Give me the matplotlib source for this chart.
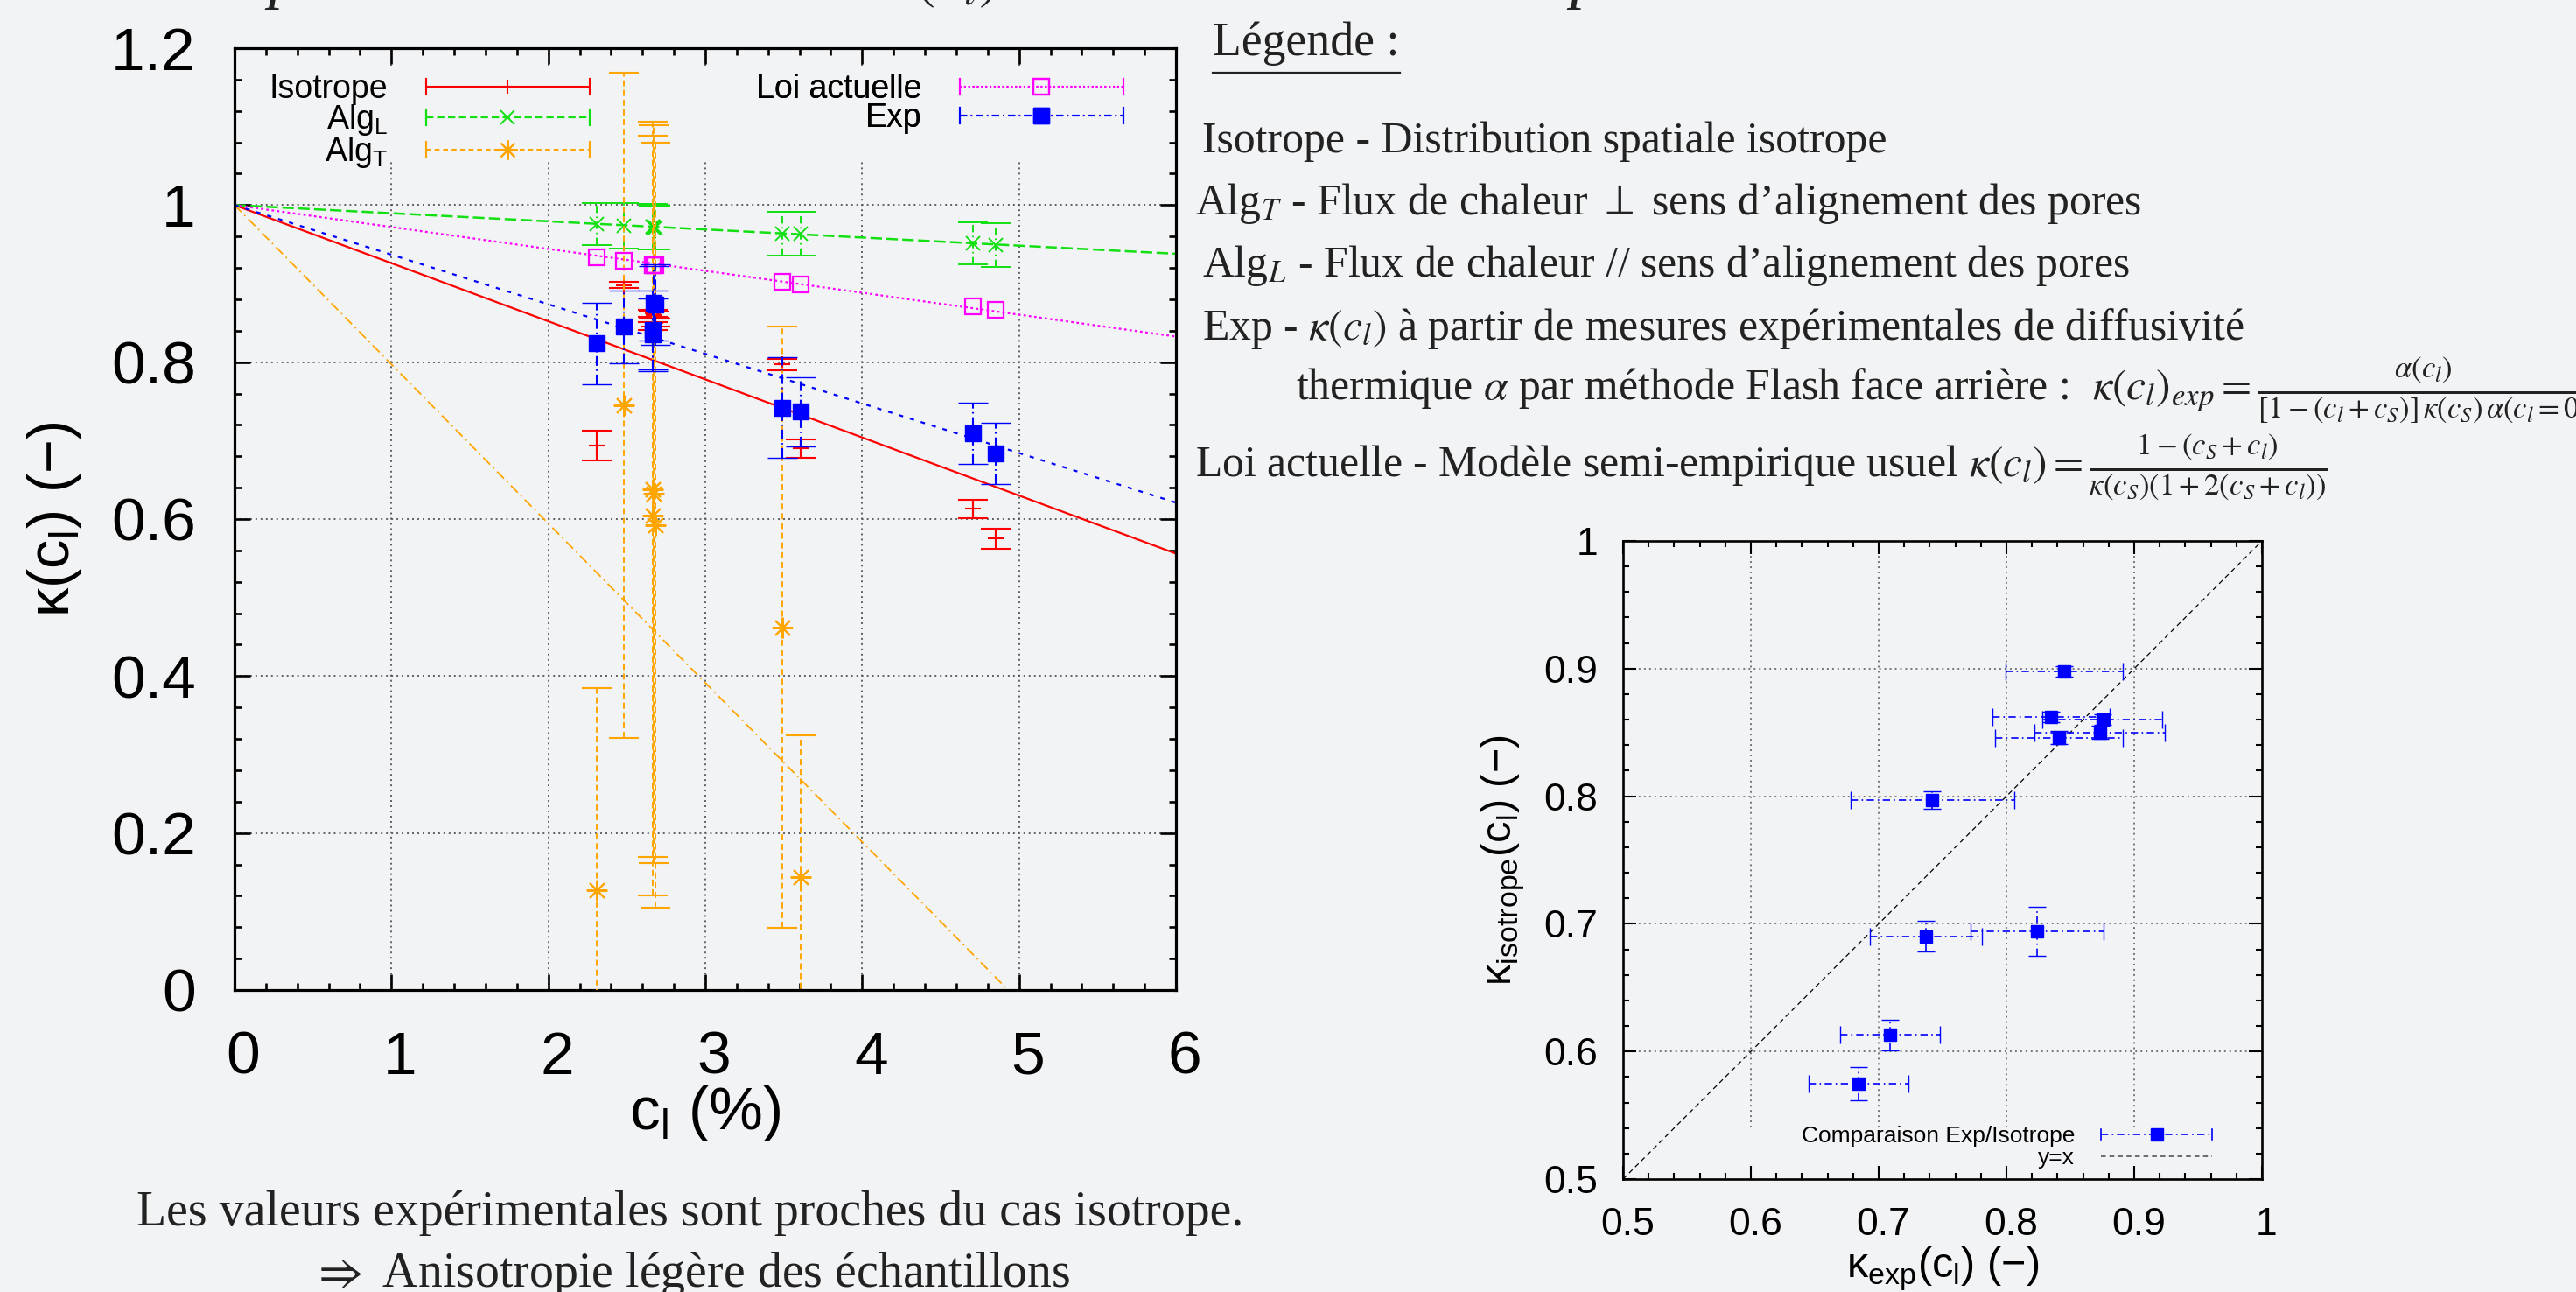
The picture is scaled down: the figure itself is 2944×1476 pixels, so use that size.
import numpy as np
import matplotlib
matplotlib.use('Agg')
import matplotlib.pyplot as plt
from matplotlib.lines import Line2D
from matplotlib.legend_handler import HandlerBase
from matplotlib.ticker import MultipleLocator, FuncFormatter
import matplotlib.transforms as mtransforms

# ---------------- data ----------------
cl = [2.31, 2.48, 2.665, 2.67, 2.665, 2.68, 3.49, 3.61, 4.705, 4.854]
k_exp = [0.824, 0.845, 0.835, 0.875, 0.841, 0.873, 0.742, 0.737, 0.709, 0.684]
k_exp_err = [0.052, 0.046, 0.046, 0.047, 0.050, 0.051, 0.064, 0.044, 0.039, 0.039]
k_iso = [0.694, 0.898, 0.862, 0.860, 0.846, 0.850, 0.797, 0.690, 0.613, 0.575]
k_iso_err = [0.019, 0.004, 0.004, 0.004, 0.005, 0.005, 0.007, 0.012, 0.012, 0.013]
k_algL = [0.976, 0.974, 0.972, 0.971, 0.972, 0.971, 0.964, 0.964, 0.951, 0.949]
k_algL_err = [0.027, 0.029, 0.029, 0.028, 0.029, 0.028, 0.028, 0.028, 0.027, 0.028]
k_algT = [0.127, 0.745, 0.638, 0.632, 0.604, 0.592, 0.462, 0.144, np.nan, np.nan]
k_algT_err = [0.258, 0.424, 0.468, 0.470, 0.484, 0.487, 0.383, 0.180, np.nan, np.nan]
k_loi = [0.934, 0.929, 0.923, 0.923, 0.923, 0.923, 0.902, 0.899, 0.871, 0.866]

line_cl = [0.0, 6.0]
iso_line = [1.0, 0.556]
algL_line = [1.0, 0.938]
algT_line = [1.0, -0.217]
loi_line = [1.0, 0.8325]
exp_line = [1.0, 0.621]

diag = [0.5, 1.0]

x_ticks_left = [0, 1, 2, 3, 4, 5, 6]
y_ticks_left = [0, 0.2, 0.4, 0.6, 0.8, 1.0, 1.2]
ticks_right = [0.5, 0.6, 0.7, 0.8, 0.9, 1.0]

# ---------------- style ----------------
BG = '#f2f3f5'
RED = '#ff0000'
GREEN = '#12e012'
ORANGE = '#ffa500'
MAGENTA = '#ff00ff'
BLUE = '#0000ff'
GRIDC = '#555555'
SERIF = ['Liberation Serif', 'DejaVu Serif']

plt.rcParams['font.family'] = ['Liberation Sans', 'DejaVu Sans']
plt.rcParams['mathtext.default'] = 'it'
plt.rcParams['lines.scale_dashes'] = False

W, H, DPI = 2944, 1476, 100
fig = plt.figure(figsize=(W / DPI, H / DPI), dpi=DPI, facecolor=BG)


def px_axes(l, t, r, b):
    return fig.add_axes([l / W, 1 - b / H, (r - l) / W, (b - t) / H])


GRID_LS = (0, (1.4, 2.9))
fmt = FuncFormatter(lambda v, p: '{:g}'.format(round(v, 6)))


class GnuErrHandler(HandlerBase):
    def __init__(self, color, ls, lw, marker=None, ms=10, mfc=None, mew=1.5, cap=0):
        super().__init__()
        self.p = dict(color=color, ls=ls, lw=lw, marker=marker, ms=ms, mfc=mfc, mew=mew, cap=cap)

    def create_artists(self, legend, orig_handle, xdescent, ydescent, width, height, fontsize, trans):
        p = self.p
        y = height / 2 - ydescent
        x0, x1 = -xdescent, -xdescent + width
        arts = [Line2D([x0, x1], [y, y], color=p['color'], lw=p['lw'], ls=p['ls'])]
        if p['cap']:
            for xx in (x0, x1):
                arts.append(Line2D([xx, xx], [y - p['cap'] / 2, y + p['cap'] / 2], color=p['color'], lw=p['lw']))
        if p['marker'] is not None:
            arts.append(Line2D([(x0 + x1) / 2], [y], ls='none', marker=p['marker'], ms=p['ms'],
                               mfc=p['mfc'], mec=p['color'], mew=p['mew']))
        for a in arts:
            a.set_transform(trans)
        return arts


def draw_err(ax, x, y, yerr, color, marker, ms, mfc, mew, bar_ls, capsize, lw=1.5, xerr=None, z=3):
    x = np.asarray(x, float)
    y = np.asarray(y, float)
    m = np.isfinite(y)
    ye = None if yerr is None else np.asarray(yerr, float)[m]
    xe = None if xerr is None else np.asarray(xerr, float)[m]
    c = ax.errorbar(x[m], y[m], yerr=ye, xerr=xe, ls='none', marker=marker, ms=ms, mfc=mfc,
                    mec=color, mew=mew, ecolor=color, elinewidth=lw, capsize=capsize,
                    capthick=lw, zorder=z)
    for lc in c[2]:
        lc.set_linestyle(bar_ls)
    return c


# ================= left plot =================
ax = px_axes(268, 55, 1344, 1131)
ax.set_facecolor(BG)
ax.set_xlim(0, 6)
ax.set_ylim(0, 1.2)
ax.xaxis.set_major_locator(MultipleLocator(1))
ax.xaxis.set_minor_locator(MultipleLocator(0.2))
ax.yaxis.set_major_locator(MultipleLocator(0.2))
ax.yaxis.set_minor_locator(MultipleLocator(0.04))
ax.xaxis.set_major_formatter(fmt)
ax.yaxis.set_major_formatter(fmt)
ax.tick_params(which='both', direction='in', top=True, right=True, width=1.9, color='black')
ax.tick_params(which='major', length=13, labelsize=50, pad=32)
ax.tick_params(axis='x', which='major', pad=33)
ax.tick_params(which='minor', length=6)
for s in ax.spines.values():
    s.set_linewidth(2.3)

# grid (gnuplot leaves the key area free)
for t in y_ticks_left[1:-1]:
    ax.axhline(t, color=GRIDC, lw=1.3, ls=GRID_LS, zorder=1)
for t in x_ticks_left[1:-1]:
    ax.axvline(t, ymin=0, ymax=0.879, color=GRIDC, lw=1.3, ls=GRID_LS, zorder=1)
    ax.axvline(t, ymin=0.981, ymax=1, color=GRIDC, lw=1.3, ls=GRID_LS, zorder=1)

# model lines
ax.plot(line_cl, iso_line, color=RED, lw=1.6, ls='-', zorder=2)
ax.plot(line_cl, algL_line, color=GREEN, lw=1.8, ls=(0, (9.5, 3.6)), zorder=2)
ax.plot(line_cl, algT_line, color=ORANGE, lw=1.3, ls=(0, (8, 3.5, 1.2, 3.5)), zorder=2)
ax.plot(line_cl, loi_line, color=MAGENTA, lw=1.6, ls=(0, (2, 2.4)), zorder=2)
ax.plot(line_cl, exp_line, color=BLUE, lw=1.6, ls=(0, (3.6, 5.8)), zorder=2)

# data
draw_err(ax, cl, k_iso, k_iso_err, RED, '+', 12.5, RED, 1.5, '-', 12.5, lw=1.5, z=3)
draw_err(ax, cl, k_algL, k_algL_err, GREEN, 'x', 12, GREEN, 1.4, (0, (6, 3, 1.2, 3)), 12, lw=1.4, z=3.1)
draw_err(ax, cl, k_algT, k_algT_err, ORANGE, (8, 2, 0), 17, ORANGE, 1.5, (0, (5, 3)), 12, lw=1.4, z=3.2)
ax.plot(cl, k_loi, ls='none', marker='s', ms=13, mfc='none', mec=MAGENTA, mew=1.6, zorder=3.3)
draw_err(ax, cl, k_exp, k_exp_err, BLUE, 's', 13, BLUE, 1.0, (0, (8, 3, 1.2, 3)), 12.5, lw=1.5, z=3.4)

ax.set_xlabel('c$_{\\mathregular{l}}$ (%)', fontsize=50, va='center')
ax.xaxis.set_label_coords(0.5, (1131 - 1272) / 1076)
ax.set_ylabel('κ(c$_{\\mathregular{l}}$) (−)', fontsize=48, va='center', ha='center')
ax.yaxis.set_label_coords((62 - 268) / 1076, 0.5)

off = mtransforms.ScaledTranslation(10 / DPI, 0, fig.dpi_scale_trans)
for lab in ax.get_xticklabels():
    lab.set_transform(lab.get_transform() + off)

# legends
h1, h2, h3, h4, h5 = [Line2D([], []) for _ in range(5)]
leg_kw = dict(markerfirst=False, frameon=False, fontsize=27, handlelength=5.0, handletextpad=1.15,
              labelspacing=-0.08, borderpad=0, borderaxespad=0, handleheight=0.7,
              bbox_transform=fig.transFigure, loc='upper right')
leg1 = ax.legend([h1, h2, h3], ['Isotrope', 'Alg$_{\\mathregular{L}}$', 'Alg$_{\\mathregular{T}}$'],
                 handler_map={h1: GnuErrHandler(RED, '-', 1.5, '+', 12, RED, 1.5, cap=13),
                              h2: GnuErrHandler(GREEN, (0, (6, 3)), 1.6, 'x', 12, GREEN, 1.4, cap=13),
                              h3: GnuErrHandler(ORANGE, (0, (4, 3)), 1.5, (8, 2, 0), 16, ORANGE, 1.5, cap=13)},
                 bbox_to_anchor=(674 / W, 1 - 84 / H), **leg_kw)
ax.add_artist(leg1)
leg2 = ax.legend([h4, h5], ['Loi actuelle', 'Exp'],
                 handler_map={h4: GnuErrHandler(MAGENTA, (0, (1.5, 2)), 1.5, 's', 13, 'none', 1.6, cap=13),
                              h5: GnuErrHandler(BLUE, (0, (6, 3, 1.2, 3)), 1.5, 's', 13, BLUE, 1.0, cap=13)},
                 bbox_to_anchor=(1284 / W, 1 - 84 / H), **leg_kw)
ax.add_artist(leg2)

# ================= right plot =================
bx = px_axes(1855, 618, 2585, 1347)
bx.set_facecolor(BG)
bx.set_xlim(0.5, 1.0)
bx.set_ylim(0.5, 1.0)
for a in (bx.xaxis, bx.yaxis):
    a.set_major_locator(MultipleLocator(0.1))
    a.set_minor_locator(MultipleLocator(0.02))
    a.set_major_formatter(fmt)
bx.tick_params(which='both', direction='in', top=True, right=True, width=1.5, color='black')
bx.tick_params(which='major', length=11, labelsize=32, pad=21)
bx.tick_params(axis='x', which='major', pad=23)
bx.tick_params(which='minor', length=5)
for s in bx.spines.values():
    s.set_linewidth(1.9)
for t in ticks_right[1:-1]:
    bx.axhline(t, color=GRIDC, lw=1.1, ls=GRID_LS, zorder=1)
    bx.axvline(t, ymin=0.081, ymax=1, color=GRIDC, lw=1.1, ls=GRID_LS, zorder=1)

bx.plot(diag, diag, color='black', lw=0.9, ls=(0, (4, 3)), zorder=2)
draw_err(bx, k_exp, k_iso, k_iso_err, BLUE, 's', 9.5, BLUE, 1.0, (0, (6, 3, 1.2, 3)), 7,
         lw=1.2, xerr=k_exp_err, z=3)

off2 = mtransforms.ScaledTranslation(5 / DPI, 0, fig.dpi_scale_trans)
for lab in bx.get_xticklabels():
    lab.set_transform(lab.get_transform() + off2)

bx.set_xlabel('κ$_{\\mathregular{exp}}$(c$_{\\mathregular{l}}$) (−)', fontsize=35, va='center')
bx.xaxis.set_label_coords(0.5, (1347 - 1450) / 729)
bx.set_ylabel('κ$_{\\mathregular{isotrope}}$(c$_{\\mathregular{l}}$) (−)', fontsize=35, va='center', ha='center')
bx.yaxis.set_label_coords((1718 - 1855) / 730, 0.5)

h6, h7 = Line2D([], []), Line2D([], [])
leg3 = bx.legend([h6, h7], ['Comparaison Exp/Isotrope', 'y=x'],
                 handler_map={h6: GnuErrHandler(BLUE, (0, (6, 3, 1.2, 3)), 1.2, 's', 9.5, BLUE, 1.0, cap=9),
                              h7: GnuErrHandler('#555555', (0, (4, 3)), 1.2)},
                 markerfirst=False, frameon=False, fontsize=19, handlelength=4.8, handletextpad=1.15,
                 labelspacing=0.05, borderpad=0, borderaxespad=0, handleheight=0.7,
                 bbox_transform=fig.transFigure, loc='upper right',
                 bbox_to_anchor=(2528 / W, 1 - 1286 / H))

# ================= text =================
renderer = fig.canvas.get_renderer()
serif_kw = dict(family=SERIF, math_fontfamily='stix', color='#222222')


def text_width(s, size, **kw):
    t = fig.text(0, 0, s, fontsize=size, **kw)
    w = t.get_window_extent(renderer).width
    t.remove()
    return w


def fit_size(s, target_px, base=30.0, **kw):
    return base * target_px / text_width(s, base, **kw)


def ftext(x, baseline, s, size, ha='left', **kw):
    return fig.text(x / W, 1 - baseline / H, s, fontsize=size, ha=ha, va='baseline', **serif_kw, **kw)


L1 = 'Isotrope - Distribution spatiale isotrope'
L2 = 'Alg$_{T}$ - Flux de chaleur $\\perp$ sens d’alignement des pores'
L3 = 'Alg$_{L}$ - Flux de chaleur // sens d’alignement des pores'
L4 = 'Exp - $\\kappa\\left(c_{l}\\right)$ à partir de mesures expérimentales de diffusivité'
L5 = ('thermique $\\alpha$ par méthode Flash face arrière :  '
      '$\\kappa\\left(c_{l}\\right)_{exp}=\\frac{\\alpha(c_{l})}{[1-(c_{l}+c_{S})]\\,\\kappa(c_{S})\\,\\alpha(c_{l}=0)}$')
L6 = ('Loi actuelle - Modèle semi-empirique usuel '
      '$\\kappa(c_{l})=\\frac{1-(c_{S}+c_{l})}{\\kappa(c_{S})(1+2(c_{S}+c_{l}))}$')

fs = fit_size(L1, 781, **serif_kw)
t_leg = ftext(1386, 63, 'Légende :', fs * 1.08)
ftext(1374, 174, L1, fs)
ftext(1366, 245, L2, fs)
ftext(1374, 316, L3, fs)
ftext(1374, 388, L4, fs)
ftext(1481, 457, L5, fs)
ftext(1366, 545, L6, fs)

bb = t_leg.get_window_extent(renderer)
fig.add_artist(Line2D([bb.x0 / W, bb.x1 / W], [1 - 83 / H, 1 - 83 / H], transform=fig.transFigure,
                      color='#222222', lw=1.6))

B1 = 'Les valeurs expérimentales sont proches du cas isotrope.'
B2 = '$\\Rightarrow$ Anisotropie légère des échantillons'
fsb = fit_size(B1, 1266, **serif_kw)
ftext(789, 1400, B1, fsb, ha='center')
ftext(789, 1470, B2, fsb, ha='center')

# title (only its descenders are visible in the frame)
TITLE = 'Comparaison des valeurs de $\\kappa(c_{l})$ des modèles et de l’expérience'
TFS = 52
x_title = 320 - text_width('Com', TFS, style='italic', **serif_kw) - 14
ftext(x_title, -4, TITLE, TFS, style='italic')

fig.savefig('out.png', dpi=DPI, facecolor=BG)
